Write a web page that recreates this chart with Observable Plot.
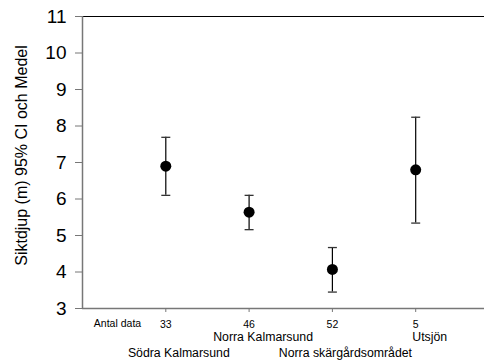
<!DOCTYPE html>
<html>
<head>
<meta charset="utf-8">
<script src="https://cdn.jsdelivr.net/npm/d3@7"></script>
<script src="https://cdn.jsdelivr.net/npm/@observablehq/plot@0.6"></script>
<style>
  html, body { margin: 0; padding: 0; background: #fff; }
  #chart svg { display: block; font-family: "Liberation Sans", Arial, sans-serif; }
</style>
</head>
<body>
<div id="chart"></div>
<script>
// ---- data ----
const regions = ["Södra Kalmarsund", "Norra Kalmarsund", "Norra skärgårdsområdet", "Utsjön"];
const counts = [33, 46, 52, 5];
const means = [6.90, 5.64, 4.07, 6.80];
const lower = [6.10, 5.16, 3.45, 5.34];
const upper = [7.69, 6.10, 4.67, 8.24];
const yTicks = [3, 4, 5, 6, 7, 8, 9, 10, 11];
const countRowLabel = "Antal data";
const yLabel = "Siktdjup (m) 95% CI och Medel";

const data = regions.map((r, i) => ({
  region: r, pos: i + 1, n: counts[i], mean: means[i], lo: lower[i], hi: upper[i], row: i % 2
}));

// horizontal cap symbol for error bars
const capSymbol = {
  draw(ctx, size) {
    const w = Math.sqrt(size / Math.PI);
    ctx.moveTo(-w, 0);
    ctx.lineTo(w, 0);
  }
};

const font = "Liberation Sans, Arial, sans-serif";

const chart = Plot.plot({
  width: 484,
  height: 361,
  marginLeft: 82,
  marginRight: 0,
  marginTop: 16,
  marginBottom: 53,
  style: { fontFamily: font, background: "white", color: "black" },
  x: { domain: [0, 4.826], axis: null },
  y: { domain: [3, 11], axis: null },
  marks: [
    // frame lines
    Plot.ruleY([11], { stroke: "black", strokeWidth: 1.2 }),
    Plot.ruleY([3], { stroke: "#777", strokeWidth: 1.5 }),
    Plot.ruleX([0], { stroke: "#777", strokeWidth: 1.5 }),
    // y axis
    Plot.axisY({
      ticks: yTicks, tickSize: 7, tickPadding: 9, fontSize: 19,
      stroke: "#777", label: null, tickFormat: d => String(d)
    }),
    // x axis (counts)
    Plot.axisX({
      ticks: data.map(d => d.pos), tickSize: 4, tickPadding: 8, fontSize: 10.5,
      stroke: "#777", label: null, tickFormat: (d, i) => String(counts[i])
    }),
    Plot.text([countRowLabel], {
      frameAnchor: "bottom-left", textAnchor: "middle", dx: 35, dy: 15, fontSize: 10.5, fill: "black", lineAnchor: "middle"
    }),
    // region labels on two staggered rows
    Plot.text(data.filter(d => d.row === 1), {
      x: "pos", y: () => 3, text: "region", dx: 14, dy: 29, fontSize: 12.3, fill: "black", lineAnchor: "middle"
    }),
    Plot.text(data.filter(d => d.row === 0), {
      x: "pos", y: () => 3, text: "region", dx: 13, dy: 45, fontSize: 12.3, fill: "black", lineAnchor: "middle"
    }),
    // y label
    Plot.text([yLabel], {
      frameAnchor: "left", textAnchor: "middle", dx: -61, dy: -7, rotate: -90, fontSize: 16, fill: "black", lineAnchor: "middle"
    }),
    // error bars
    Plot.ruleX(data, { x: "pos", y1: "lo", y2: "hi", stroke: "black", strokeWidth: 1.2 }),
    Plot.dot(data, { x: "pos", y: "lo", symbol: capSymbol, r: 4.5, stroke: "#333", strokeWidth: 1.3, fill: "none" }),
    Plot.dot(data, { x: "pos", y: "hi", symbol: capSymbol, r: 4.5, stroke: "#333", strokeWidth: 1.3, fill: "none" }),
    // means
    Plot.dot(data, { x: "pos", y: "mean", r: 5.5, fill: "black", stroke: "none" })
  ]
});

document.getElementById("chart").appendChild(chart);
</script>
</body>
</html>
